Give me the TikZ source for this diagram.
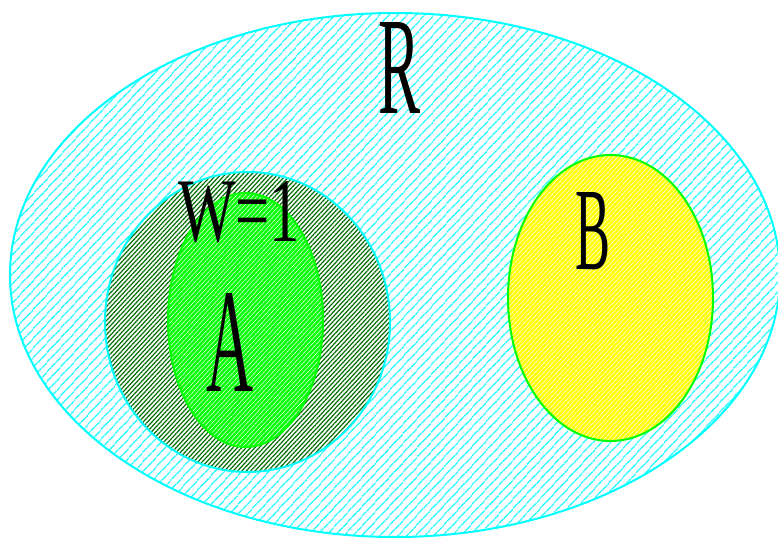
\documentclass[tikz,border=0pt]{standalone}
\usepackage{fontspec}
\setmainfont{Liberation Serif}
\usetikzlibrary{patterns.meta,shapes.geometric}
\definecolor{cyanx}{RGB}{0,255,255}
\definecolor{darkg}{RGB}{0,110,0}
\definecolor{brightg}{RGB}{0,255,0}
\definecolor{yell}{RGB}{255,255,0}
\tikzset{
  region/.style={ellipse, inner sep=0pt, outer sep=0pt, line width=2pt},
  lbl/.style={inner sep=0pt, outer sep=0pt, anchor=center},
}
\begin{document}
\begin{tikzpicture}[x=1pt,y=-1pt]
\useasboundingbox (0,0) rectangle (778,538);
\clip (0,0) rectangle (778,538);
\node[region, draw=cyanx, minimum width=770pt, minimum height=524pt,
  pattern={Lines[angle=47,distance=6.5pt,line width=1.2pt]}, pattern color=cyanx] (R) at (395,275) {};
\node[region, draw=cyanx, minimum width=285pt, minimum height=300pt,
  preaction={fill=white},
  pattern={Lines[angle=47,distance=3.2pt,line width=1.2pt]}, pattern color=darkg] (W) at (247.5,322) {};
\node[region, draw=brightg, minimum width=155pt, minimum height=254pt,
  preaction={fill=brightg},
  pattern={Lines[angle=47,distance=3.2pt,line width=0.5pt]}, pattern color=white] (A) at (245.5,320) {};
\node[region, draw=brightg, minimum width=205pt, minimum height=286pt,
  preaction={fill=yell},
  pattern={Lines[angle=47,distance=3.2pt,line width=0.5pt]}, pattern color=white] (B) at (610.5,298) {};
\node[lbl] (Rl) at (399,67.5) {\resizebox{42pt}{91pt}{R}};
\node[lbl] (Wl) at (239,212) {\resizebox{122pt}{60pt}{W=1}};
\node[lbl] (Al) at (230,342.5) {\resizebox{47pt}{98pt}{A}};
\node[lbl] (Bl) at (592.5,231) {\resizebox{35pt}{77pt}{B}};
\end{tikzpicture}
\end{document}
